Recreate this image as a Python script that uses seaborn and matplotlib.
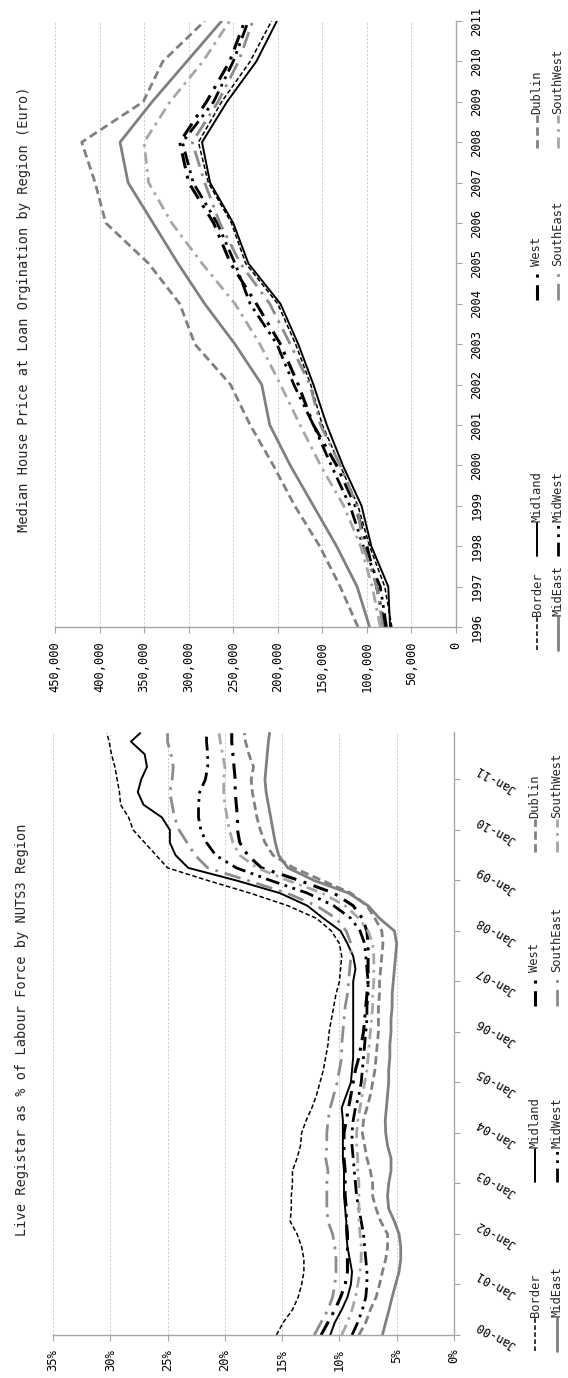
import matplotlib
matplotlib.use("Agg")
import matplotlib.pyplot as plt
import matplotlib.lines as mlines
import seaborn as sns
import pandas as pd

# ---------------- data: median house price at loan origination (euro) ----------------
price_years = list(range(1996, 2012))
price_border = [72, 80, 97, 110, 130, 150, 163, 180, 200, 236, 252, 278, 289, 263, 231, 207]
price_midland = [74, 76, 95, 106, 127, 145, 160, 177, 197, 233, 250, 276, 285, 257, 224, 201]
price_west = [80, 89, 100, 113, 134, 160, 177, 197, 224, 253, 272, 300, 310, 280, 254, 237]
price_dublin = [110, 130, 153, 181, 205, 231, 253, 293, 310, 345, 393, 405, 420, 351, 329, 282]
price_mideast = [97, 111, 134, 160, 186, 209, 218, 248, 282, 312, 340, 368, 377, 341, 302, 263]
price_midwest = [78, 85, 104, 119, 140, 160, 182, 201, 231, 248, 268, 295, 307, 272, 250, 233]
price_southeast = [82, 89, 104, 111, 130, 152, 164, 186, 209, 242, 265, 282, 296, 267, 244, 228]
price_southwest = [85, 94, 107, 126, 152, 175, 197, 220, 248, 285, 319, 345, 350, 321, 284, 254]
price_ticks = list(range(0, 450001, 50000))

# ---------------- data: live register as % of labour force (quarterly) ----------------
lr_dates = pd.date_range("2000-01-01", "2011-10-01", freq="QS").tolist() + [pd.Timestamp("2011-12-01")]
lr_border = [15.5, 14.9, 14.1, 13.6, 13.3, 13.1, 13.1, 13.3, 13.7, 14.3, 14.2, 14.2, 14.1, 14.1, 13.7, 13.4,
             13.3, 12.9, 12.4, 12.0, 11.7, 11.4, 11.2, 11.0, 10.9, 10.7, 10.5, 10.3, 10.0, 9.9, 9.8, 10.0,
             10.7, 12.0, 14.5, 17.8, 21.5, 25.0, 26.0, 27.0, 28.0, 28.4, 29.1, 29.2, 29.4, 29.6, 29.9, 30.1, 30.3]
lr_midland = [10.8, 10.4, 9.8, 9.3, 9.0, 8.9, 9.1, 9.3, 9.4, 9.4, 9.5, 9.6, 9.6, 9.6, 9.7, 9.7,
              9.7, 9.7, 9.8, 9.4, 9.0, 8.9, 8.8, 8.8, 8.8, 8.8, 8.8, 8.8, 8.8, 8.6, 8.8, 9.3,
              9.9, 11.4, 12.8, 15.2, 19.0, 23.2, 24.3, 24.8, 24.8, 25.5, 27.1, 27.6, 27.3, 26.8, 27.0, 28.2, 27.4]
lr_west = [11.6, 11.0, 10.4, 9.9, 9.5, 9.3, 9.3, 9.3, 9.3, 9.4, 9.4, 9.5, 9.5, 9.5, 9.6, 9.6,
           9.6, 9.4, 9.2, 9.0, 8.8, 8.6, 8.3, 8.1, 7.9, 7.8, 7.7, 7.6, 7.5, 7.5, 7.5, 7.5,
           7.6, 8.0, 8.8, 10.5, 13.5, 16.8, 18.0, 18.7, 18.9, 18.9, 19.0, 19.1, 19.1, 19.2, 19.3, 19.4, 19.4]
lr_dublin = [8.3, 7.7, 7.3, 6.8, 6.5, 6.25, 5.96, 5.8, 5.8, 6.4, 6.8, 7.1, 7.1, 7.3, 7.6, 7.8,
             8.0, 7.9, 7.6, 7.3, 7.1, 6.9, 6.8, 6.7, 6.6, 6.6, 6.6, 6.5, 6.5, 6.4, 6.3, 6.2,
             6.3, 6.9, 7.6, 9.0, 11.5, 14.0, 15.8, 16.5, 16.9, 17.2, 17.4, 17.6, 17.7, 17.5, 17.9, 18.2, 18.3]
lr_mideast = [6.25, 5.96, 5.67, 5.4, 5.1, 4.8, 4.65, 4.65, 4.8, 5.2, 5.7, 5.8, 5.7, 5.5, 5.5, 5.8,
              5.96, 6.0, 5.9, 5.8, 5.7, 5.7, 5.6, 5.6, 5.5, 5.5, 5.4, 5.4, 5.3, 5.2, 5.1, 5.0,
              5.2, 6.5, 7.5, 9.2, 12.2, 14.5, 15.3, 15.6, 15.8, 16.0, 16.2, 16.4, 16.5, 16.4, 16.3, 16.2, 16.1]
lr_midwest = [8.9, 8.4, 8.0, 7.7, 7.6, 7.6, 7.7, 7.8, 7.9, 8.1, 8.3, 8.5, 8.6, 8.7, 8.8, 8.9,
              8.9, 8.8, 8.6, 8.3, 8.1, 8.0, 7.9, 7.8, 7.7, 7.6, 7.6, 7.5, 7.5, 7.6, 7.7, 7.8,
              8.2, 9.0, 10.5, 12.8, 16.0, 19.0, 20.8, 21.6, 22.1, 22.3, 22.3, 22.2, 21.7, 21.5, 21.5, 21.6, 21.6]
lr_southeast = [12.2, 11.6, 11.0, 10.6, 10.4, 10.3, 10.3, 10.4, 10.6, 11.0, 11.1, 11.1, 11.1, 11.0, 11.2, 11.1,
                11.1, 11.0, 10.8, 10.5, 10.2, 10.0, 9.8, 9.8, 9.7, 9.6, 9.5, 9.3, 9.2, 9.1, 9.0, 9.0,
                9.4, 10.3, 12.0, 14.6, 18.0, 21.5, 22.6, 23.3, 24.0, 24.4, 24.6, 24.8, 24.6, 24.5, 24.7, 25.0, 25.0]
lr_southwest = [9.8, 9.3, 8.9, 8.6, 8.4, 8.2, 8.1, 8.1, 8.2, 8.3, 8.3, 8.3, 8.3, 8.4, 8.4, 8.5,
                8.5, 8.4, 8.2, 8.0, 7.8, 7.6, 7.5, 7.4, 7.3, 7.2, 7.1, 7.1, 7.0, 7.0, 7.0, 7.1,
                7.5, 8.3, 9.5, 11.5, 14.5, 17.2, 18.7, 19.3, 19.6, 19.8, 20.0, 20.1, 20.1, 20.0, 20.2, 20.4, 20.5]
lr_ticks = list(range(0, 36, 5))
lr_year_ticks = list(range(2000, 2012))

regions = ["Border", "Midland", "West", "Dublin", "MidEast", "MidWest", "SouthEast", "SouthWest"]
price_series = dict(zip(regions, [price_border, price_midland, price_west, price_dublin,
                                  price_mideast, price_midwest, price_southeast, price_southwest]))
lr_series = dict(zip(regions, [lr_border, lr_midland, lr_west, lr_dublin,
                               lr_mideast, lr_midwest, lr_southeast, lr_southwest]))

GRAY = "#808080"
LIGHT = "#a6a6a6"
line_styles = {
    "Border": dict(color="black", linewidth=1.1, linestyle=(0, (3, 1.6))),
    "Midland": dict(color="black", linewidth=1.4, linestyle="-"),
    "West": dict(color="black", linewidth=2.2, linestyle=(0, (5, 2.5, 1, 2.5))),
    "Dublin": dict(color=GRAY, linewidth=2.0, linestyle=(0, (3, 1.6))),
    "MidEast": dict(color=GRAY, linewidth=2.0, linestyle="-"),
    "MidWest": dict(color="black", linewidth=2.0, linestyle=(0, (5, 2, 1, 2, 1, 2))),
    "SouthEast": dict(color="#8c8c8c", linewidth=2.0, linestyle=(0, (6, 2.5, 1, 2.5))),
    "SouthWest": dict(color=LIGHT, linewidth=2.0, linestyle=(0, (4, 2, 1, 2))),
}

sns.set_theme(style="white")
plt.rcParams["font.family"] = ["DejaVu Sans Mono", "DejaVu Sans"]

W, H = 568, 1378
fig = plt.figure(figsize=(W / 100, H / 100), dpi=100)


def fx(px):
    return px / W


def fy(py):
    return 1 - py / H


TICK_FS = 8.7
SPINE = "#a6a6a6"


def style_axes(ax, xpad, ypad):
    for side in ("top", "left"):
        ax.spines[side].set_visible(False)
    for side in ("bottom", "right"):
        ax.spines[side].set_color(SPINE)
        ax.spines[side].set_linewidth(1.0)
    ax.set_axisbelow(True)
    ax.xaxis.grid(True, color="#c8c8c8", linestyle=(0, (2, 2)), linewidth=0.7)
    ax.yaxis.grid(False)
    ax.yaxis.tick_right()
    ax.tick_params(axis="x", bottom=True, top=False, direction="out", length=4,
                   width=0.8, color=SPINE, labelsize=TICK_FS, pad=xpad, labelcolor="black")
    ax.tick_params(axis="y", left=False, right=True, labelleft=False, labelright=True,
                   direction="out", length=4, width=0.8, color=SPINE, labelsize=TICK_FS,
                   pad=ypad, labelcolor="black")
    ax.set_xlabel("")
    ax.set_ylabel("")


# ---------------- house price chart (rotated: value runs right-to-left, time upward) ----------------
ax1 = fig.add_axes([fx(55), fy(627), 401 / W, 606 / H])
for name in regions:
    sns.lineplot(x=[v * 1000 for v in price_series[name]], y=price_years, orient="y",
                 estimator=None, errorbar=None, ax=ax1, **line_styles[name])
ax1.set_xlim(450000, 0)
ax1.set_ylim(1996, 2011)
ax1.set_xticks(price_ticks)
ax1.set_xticklabels([f"{v:,}" for v in price_ticks], rotation=90)
ax1.set_yticks(price_years)
ax1.set_yticklabels([str(y) for y in price_years], rotation=90, va="center")
style_axes(ax1, xpad=6.5, ypad=6.5)

# ---------------- live register chart ----------------
lr_time = [d.year + (d.month - 1) / 12 for d in lr_dates]
ax2 = fig.add_axes([fx(53), fy(1335), 401 / W, 603 / H])
for name in regions:
    sns.lineplot(x=lr_series[name], y=lr_time, orient="y",
                 estimator=None, errorbar=None, ax=ax2, **line_styles[name])
ax2.set_xlim(35, 0)
ax2.set_ylim(2000, 2011.94)
ax2.set_xticks(lr_ticks)
ax2.set_xticklabels([f"{v}%" for v in lr_ticks], rotation=90)
ax2.set_yticks(lr_year_ticks)
ax2.set_yticklabels([f"Jan-{y % 100:02d}" for y in lr_year_ticks], rotation=150,
                    va="center", ha="left")
style_axes(ax2, xpad=6.0, ypad=10)

# ---------------- titles ----------------
TITLE_FS = 9.8
fig.text(fx(24), fy(309), "Median House Price at Loan Orgination by Region (Euro)",
         rotation=90, ha="center", va="center", fontsize=TITLE_FS)
fig.text(fx(22), fy(1030), "Live Registar as % of Labour Force by NUTS3 Region",
         rotation=90, ha="center", va="center", fontsize=TITLE_FS)

# ---------------- legends drawn as vertical entries ----------------
legend_layout = {
    "Border": (0, 0), "Midland": (0, 1), "West": (0, 2), "Dublin": (0, 3),
    "MidEast": (1, 0), "MidWest": (1, 1), "SouthEast": (1, 2), "SouthWest": (1, 3),
}


def draw_legend(col_x, row_y):
    sample = 33
    for name, (c, r) in legend_layout.items():
        x = col_x[c]
        yb = row_y[r]
        st = line_styles[name]
        fig.add_artist(mlines.Line2D([fx(x), fx(x)], [fy(yb), fy(yb - sample)],
                                     transform=fig.transFigure, color=st["color"],
                                     linewidth=st["linewidth"], linestyle=st["linestyle"]))
        fig.text(fx(x), fy(yb - sample - 1), name, rotation=90, rotation_mode="anchor",
                 ha="left", va="center", fontsize=TICK_FS)


draw_legend([537, 558], [650, 556, 300, 148])
draw_legend([535, 557], [1351, 1182, 1006, 852])

fig.savefig("out.png", dpi=100, facecolor="white")
